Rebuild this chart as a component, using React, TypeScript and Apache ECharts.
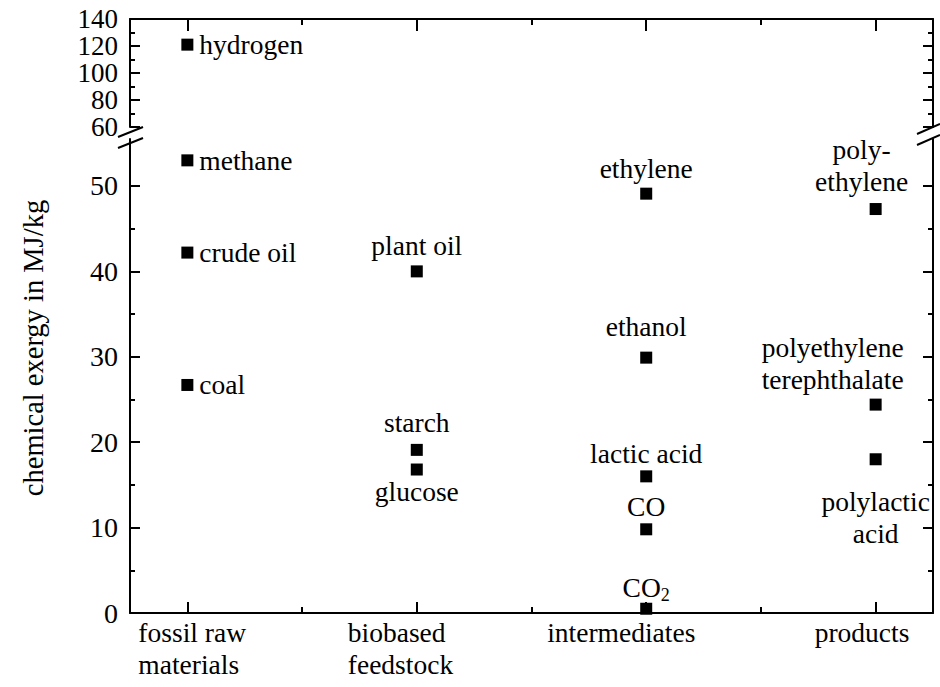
import { useEffect, useRef } from 'react';
import * as echarts from 'echarts';

// ---------- data ----------
const categories = ['fossil raw\nmaterials', 'biobased\nfeedstock', 'intermediates', 'products'];
const categoryPositions = [1, 2, 3, 4];
const categoryMidpoints = [1.5, 2.5, 3.5];

// upper (broken) part of the y axis
const upperNames = ['hydrogen'];
const upperCategory = [1];
const upperValues = [121];
const upperTicks = [60, 80, 100, 120, 140];
const upperMinorTicks = [70, 90, 110, 130];

// lower part of the y axis
const lowerNames = [
  'methane', 'crude oil', 'coal',
  'plant oil', 'starch', 'glucose',
  'ethylene', 'ethanol', 'lactic acid', 'CO', 'CO2',
  'poly-\nethylene', 'polyethylene\nterephthalate', 'polylactic\nacid',
];
const lowerCategory = [1, 1, 1, 2, 2, 2, 3, 3, 3, 3, 3, 4, 4, 4];
const lowerValues = [53, 42.2, 26.7, 40, 19.1, 16.8, 49.1, 29.9, 16.0, 9.8, 0.5, 47.3, 24.4, 18.0];
const lowerTicks = [0, 10, 20, 30, 40, 50];
const lowerMinorTicks = [5, 15, 25, 35, 45];

const yAxisTitle = 'chemical exergy in MJ/kg';

// ---------- style ----------
// [position, distance, x-offset]
const labelPlacement: Record<string, [string, number, number]> = {
  hydrogen: ['right', 6, 0],
  methane: ['right', 6, 0],
  'crude oil': ['right', 6, 0],
  coal: ['right', 6, 0],
  'plant oil': ['top', 4, 0],
  starch: ['top', 5, 0],
  glucose: ['bottom', 0, 0],
  ethylene: ['top', 3, 0],
  ethanol: ['top', 9, 0],
  'lactic acid': ['top', 1, 0],
  CO: ['top', 1, 0],
  CO2: ['top', -1, 0],
  'poly-\nethylene': ['top', 6, -14],
  'polyethylene\nterephthalate': ['top', 3, -43],
  'polylactic\nacid': ['bottom', 20, 0],
};
// horizontal shift (px) of the left edge of each category label relative to its tick
const categoryLabelShift = [-49, -69, -99, -61];

const FONT = 'Liberation Serif';
const FS = 27.5;
const TICK_FS = 28;
const INK = '#000';

// plot geometry
const X_MIN = 0.75;
const X_MAX = 4.25;
const PLOT_LEFT = 130;
const PLOT_RIGHT_MARGIN = 7;
const PLOT_WIDTH = 940 - PLOT_LEFT - PLOT_RIGHT_MARGIN;
const PX_PER_UNIT = PLOT_WIDTH / (X_MAX - X_MIN);
const categoryLabelAnchors = categoryPositions.map((p, i) => p + categoryLabelShift[i] / PX_PER_UNIT);

function makePoint(name: string, cat: number, value: number) {
  const [position, distance, dx] = labelPlacement[name] || ['top', 5, 0];
  const isCO2 = name === 'CO2';
  return {
    name,
    value: [cat, value],
    label: {
      show: true,
      position,
      distance,
      offset: [dx, 0],
      formatter: isCO2 ? 'CO{sub|2}' : name,
      rich: isCO2
        ? { sub: { fontSize: 18, fontFamily: FONT, color: INK, verticalAlign: 'bottom', padding: [20, 0, 0, 0] } }
        : undefined,
    },
  };
}

export default function App() {
  const ref = useRef<HTMLDivElement>(null);

  useEffect(() => {
    if (!ref.current) return;
    const chart = echarts.init(ref.current, null, { renderer: 'svg' });

    const axisLine = { show: true, onZero: false, lineStyle: { color: INK, width: 2 } };
    const noLine = { show: false, onZero: false };

    const xCommon = { type: 'value', min: X_MIN, max: X_MAX, splitLine: { show: false } };
    const tick = (len: number, values: number[]) => ({
      show: true,
      inside: true,
      length: len,
      customValues: values,
      lineStyle: { color: INK, width: 2 },
    });
    const yUpper = { type: 'value', gridIndex: 0, min: 60, max: 140, interval: 20, splitLine: { show: false } };
    const yLower = { type: 'value', gridIndex: 1, min: 0, max: 55.5, splitLine: { show: false } };

    const option: any = {
      animation: false,
      backgroundColor: '#fff',
      textStyle: { fontFamily: FONT, color: INK },
      grid: [
        { left: PLOT_LEFT, right: PLOT_RIGHT_MARGIN, top: 19, height: 108 },
        { left: PLOT_LEFT, right: PLOT_RIGHT_MARGIN, top: 139, height: 474 },
      ],
      xAxis: [
        { ...xCommon, gridIndex: 0, position: 'top', axisLine, axisTick: tick(12, categoryPositions), axisLabel: { show: false } },
        { ...xCommon, gridIndex: 0, position: 'top', axisLine: noLine, axisTick: tick(6, categoryMidpoints), axisLabel: { show: false } },
        {
          ...xCommon, gridIndex: 1, position: 'bottom', axisLine, axisTick: tick(11, categoryPositions),
          axisLabel: {
            show: true,
            interval: 0,
            customValues: categoryLabelAnchors,
            formatter: (v: number) => categories[Math.round(v) - 1] || '',
            fontFamily: FONT, fontSize: FS, lineHeight: 32, color: INK, margin: 3,
            align: 'left',
            verticalAlign: 'top',
          },
        },
        { ...xCommon, gridIndex: 1, position: 'bottom', axisLine: noLine, axisTick: tick(6, categoryMidpoints), axisLabel: { show: false } },
      ],
      yAxis: [
        {
          ...yUpper, position: 'left', axisLine,
          axisTick: tick(10, upperTicks),
          axisLabel: {
            show: true, interval: 0, customValues: upperTicks, showMinLabel: true, showMaxLabel: true, hideOverlap: false,
            fontFamily: FONT, fontSize: 27, lineHeight: 20, color: INK, margin: 12,
          },
        },
        { ...yUpper, position: 'left', axisLine: noLine, axisTick: tick(5, upperMinorTicks), axisLabel: { show: false } },
        { ...yUpper, position: 'right', axisLine, axisTick: tick(10, upperTicks), axisLabel: { show: false } },
        { ...yUpper, position: 'right', axisLine: noLine, axisTick: tick(5, upperMinorTicks), axisLabel: { show: false } },
        {
          ...yLower, position: 'left', axisLine,
          axisTick: tick(10, lowerTicks),
          axisLabel: {
            show: true, interval: 0, customValues: lowerTicks, showMinLabel: true, hideOverlap: false,
            fontFamily: FONT, fontSize: TICK_FS, color: INK, margin: 12,
          },
        },
        { ...yLower, position: 'left', axisLine: noLine, axisTick: tick(5, lowerMinorTicks), axisLabel: { show: false } },
        { ...yLower, position: 'right', axisLine, axisTick: tick(10, lowerTicks), axisLabel: { show: false } },
        { ...yLower, position: 'right', axisLine: noLine, axisTick: tick(5, lowerMinorTicks), axisLabel: { show: false } },
      ],
      series: [
        {
          type: 'scatter', xAxisIndex: 0, yAxisIndex: 0,
          symbol: 'rect', symbolSize: 12, clip: false,
          itemStyle: { color: INK, opacity: 1 },
          label: { fontFamily: FONT, fontSize: FS, color: INK, lineHeight: 32 },
          data: upperNames.map((n, i) => makePoint(n, upperCategory[i], upperValues[i])),
        },
        {
          type: 'scatter', xAxisIndex: 2, yAxisIndex: 4,
          symbol: 'rect', symbolSize: 12, clip: false,
          itemStyle: { color: INK, opacity: 1 },
          label: { fontFamily: FONT, fontSize: FS, color: INK, lineHeight: 32 },
          data: lowerNames.map((n, i) => makePoint(n, lowerCategory[i], lowerValues[i])),
        },
      ],
      graphic: [
        {
          type: 'text', x: 33, y: 348, rotation: Math.PI / 2,
          style: {
            text: yAxisTitle, fontFamily: FONT, fontSize: 28.5, fill: INK,
            textAlign: 'center', textVerticalAlign: 'middle', verticalAlign: 'middle',
          },
        },
        { type: 'line', shape: { x1: 118, y1: 137, x2: 143, y2: 127 }, style: { stroke: INK, lineWidth: 2 } },
        { type: 'line', shape: { x1: 118, y1: 148, x2: 143, y2: 138 }, style: { stroke: INK, lineWidth: 2 } },
        { type: 'line', shape: { x1: 917, y1: 134, x2: 940, y2: 124 }, style: { stroke: INK, lineWidth: 2 } },
        { type: 'line', shape: { x1: 917, y1: 145, x2: 940, y2: 135 }, style: { stroke: INK, lineWidth: 2 } },
      ],
    };

    chart.setOption(option);
    return () => chart.dispose();
  }, []);

  return (
    <div
      ref={ref}
      style={{ position: 'fixed', left: 0, top: 0, width: 940, height: 687, background: '#fff' }}
    />
  );
}
